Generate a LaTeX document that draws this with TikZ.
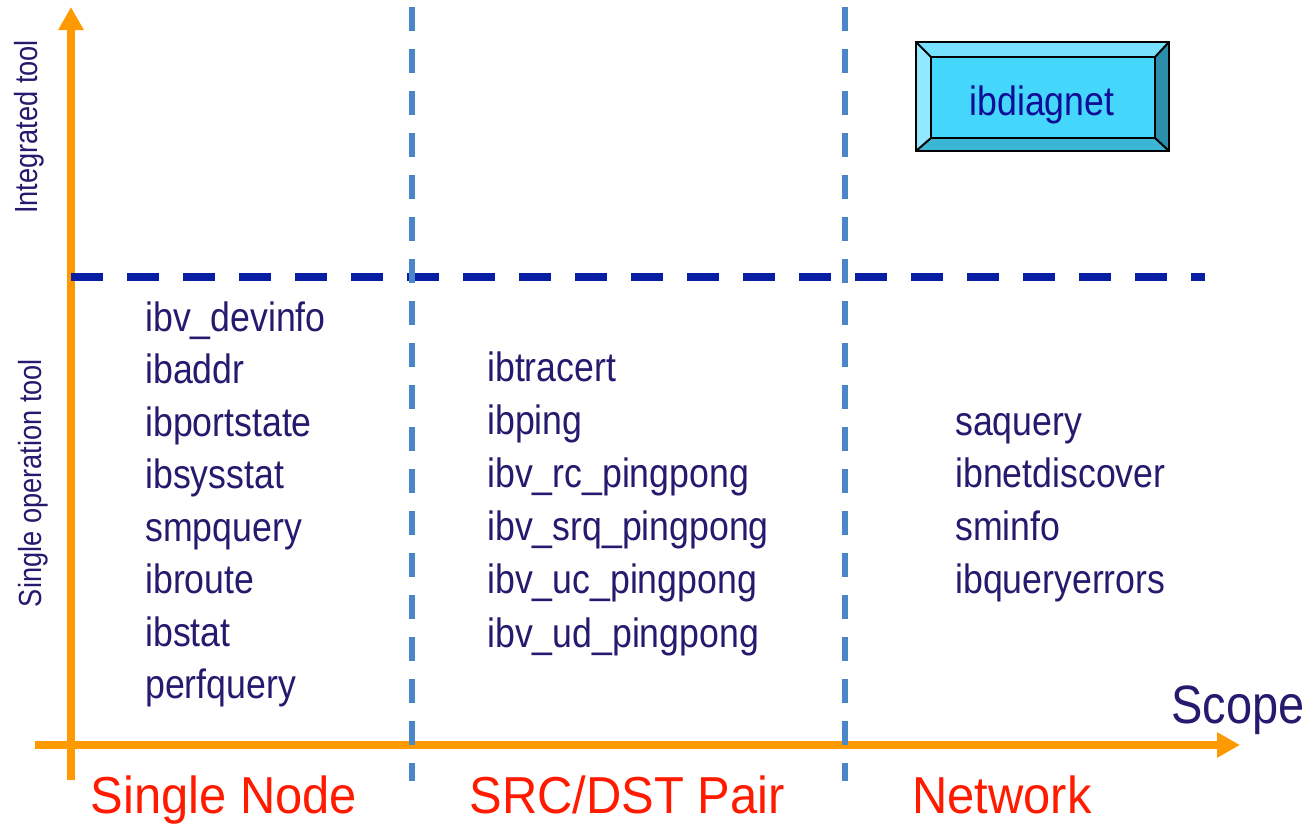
\documentclass[tikz,border=0pt]{standalone}
\usepackage{graphicx}
\usepackage{fontspec}
\setmainfont{Liberation Sans}
\usetikzlibrary{arrows.meta}

\definecolor{axisorange}{RGB}{255,153,0}
\definecolor{gridblue}{RGB}{74,134,200}
\definecolor{splitblue}{RGB}{8,30,165}
\definecolor{toolnavy}{RGB}{36,26,110}
\definecolor{diagnavy}{RGB}{14,14,150}
\definecolor{scopered}{RGB}{255,26,0}
\definecolor{bevelface}{RGB}{69,215,251}
\definecolor{beveltop}{RGB}{118,226,255}
\definecolor{bevelleft}{RGB}{146,233,255}
\definecolor{bevelright}{RGB}{43,143,169}
\definecolor{bevelbottom}{RGB}{59,183,213}

% slightly narrowed glyphs
\newcommand{\narrowtext}[2][0.87]{\scalebox{#1}[1]{#2}}

\tikzset{
  tool/.style={anchor=base west, inner sep=0pt, text=toolnavy,
    font=\fontsize{30.75}{36}\selectfont},
  sidelabel/.style={rotate=90, anchor=base, inner sep=0pt, text=toolnavy,
    font=\fontsize{24}{28}\selectfont},
  scopelabel/.style={anchor=base, inner sep=0pt, text=scopered,
    font=\fontsize{39}{44}\selectfont},
  axisline/.style={draw=axisorange, line width=6pt,
    -{Triangle[length=17.25pt,width=18pt]}, color=axisorange},
  splitline/.style={draw=splitblue, line width=6pt, dash pattern=on 24pt off 18pt},
  gridline/.style={draw=gridblue, line width=4.5pt, dash pattern=on 18pt off 13.5pt},
  beveledge/.style={draw=black, line width=1.5pt, line join=miter},
}

\begin{document}
\begin{tikzpicture}[x=0.75pt,y=-0.75pt]
\useasboundingbox (0,0) rectangle (1314,825);

% axes
\coordinate (yfoot) at (71,780);
\coordinate (ytip)  at (71,7);
\coordinate (xfoot) at (35,745);
\coordinate (xtip)  at (1240,745);
\draw[axisline] (yfoot) -- (ytip);
\draw[axisline] (xfoot) -- (xtip);

% boundary between integrated and single operation tools
\coordinate (splitL) at (71,277);
\coordinate (splitR) at (1205,277);
\draw[splitline] (splitL) -- (splitR);

% boundaries between scopes
\coordinate (gridAtop) at (412,7);
\coordinate (gridAbot) at (412,781);
\coordinate (gridBtop) at (845,7);
\coordinate (gridBbot) at (845,781);
\draw[gridline] (gridAtop) -- (gridAbot);
\draw[gridline] (gridBtop) -- (gridBbot);

% bevelled button
\coordinate (oNW) at (916,42);
\coordinate (oNE) at (1169,42);
\coordinate (oSE) at (1169,151);
\coordinate (oSW) at (916,151);
\coordinate (iNW) at (931,57);
\coordinate (iNE) at (1155,57);
\coordinate (iSE) at (1155,138);
\coordinate (iSW) at (931,138);
\fill[beveltop]    (oNW) -- (oNE) -- (iNE) -- (iNW) -- cycle;
\fill[bevelright]  (oNE) -- (oSE) -- (iSE) -- (iNE) -- cycle;
\fill[bevelbottom] (oSE) -- (oSW) -- (iSW) -- (iSE) -- cycle;
\fill[bevelleft]   (oSW) -- (oNW) -- (iNW) -- (iSW) -- cycle;
\fill[bevelface]   (iNW) rectangle (iSE);
\draw[beveledge] (oNW) rectangle (oSE);
\draw[beveledge] (iNW) rectangle (iSE);
\draw[beveledge] (oNW) -- (iNW) (oNE) -- (iNE) (oSE) -- (iSE) (oSW) -- (iSW);
\node[anchor=base, inner sep=0pt, text=diagnavy,
  font=\fontsize{30.75}{36}\selectfont] (diag) at (1042,115) {\narrowtext{ibdiagnet}};

% tools per scope
\foreach \t [count=\i] in {ibv\_devinfo, ibaddr, ibportstate, ibsysstat,
    smpquery, ibroute, ibstat, perfquery}
  \node[tool] (single\i) at (145,{331+52.5*(\i-1)}) {\narrowtext{\t}};
\foreach \t [count=\i] in {ibtracert, ibping, ibv\_rc\_pingpong,
    ibv\_srq\_pingpong, ibv\_uc\_pingpong, ibv\_ud\_pingpong}
  \node[tool] (pair\i) at (487,{381+53.2*(\i-1)}) {\narrowtext{\t}};
\foreach \t [count=\i] in {saquery, ibnetdiscover, sminfo, ibqueryerrors}
  \node[tool] (net\i) at (955,{435+52.7*(\i-1)}) {\narrowtext{\t}};

% axis labels
\node[sidelabel] (integrated) at (37,127) {\narrowtext[0.85]{Integrated tool}};
\node[sidelabel] (singleop) at (41,483) {\narrowtext[0.85]{Single operation tool}};
\node[anchor=base west, inner sep=0pt, text=toolnavy,
  font=\fontsize{40.5}{46}\selectfont] (scope) at (1171,723) {\narrowtext{Scope}};
\node[scopelabel] (nodescope) at (224,813) {\narrowtext[0.94]{Single Node}};
\node[scopelabel] (pairscope) at (627,813) {\narrowtext[0.94]{SRC/DST Pair}};
\node[scopelabel] (netscope) at (1002,813) {\narrowtext[0.94]{Network}};
\end{tikzpicture}
\end{document}
